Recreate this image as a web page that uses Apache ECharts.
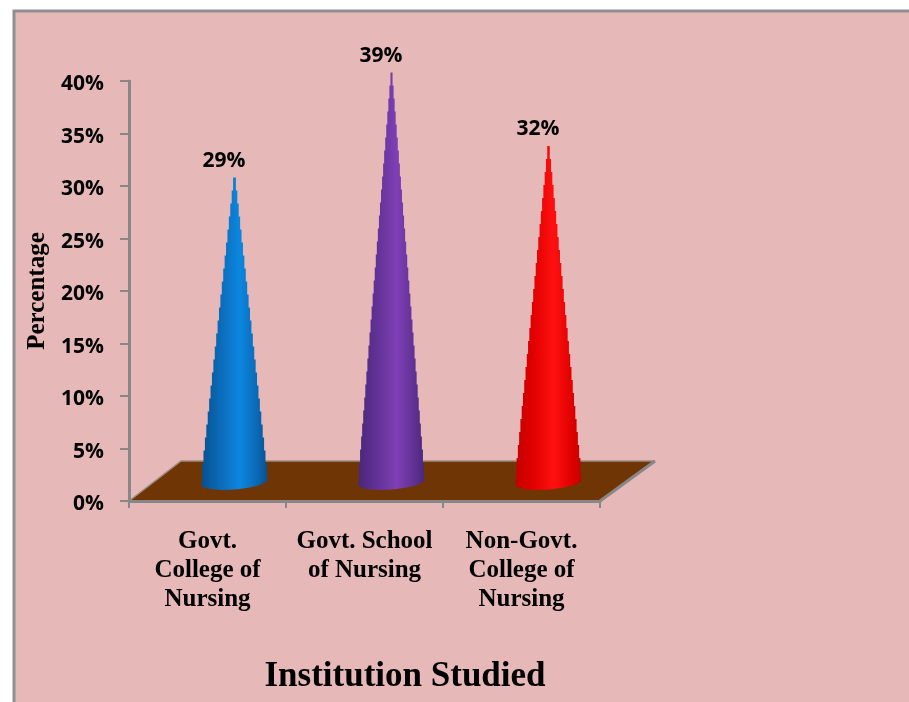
<!DOCTYPE html>
<html>
<head>
<meta charset="utf-8">
<style>
  html, body { margin: 0; padding: 0; background: #ffffff; }
  #chart { width: 909px; height: 702px; }
</style>
<script src="https://cdn.jsdelivr.net/npm/echarts@6/dist/echarts.min.js"></script>
</head>
<body>
<div id="chart"></div>
<script>
const categories = ['Govt.\nCollege of\nNursing', 'Govt. School\nof Nursing', 'Non-Govt.\nCollege of\nNursing'];
const percentages = [29, 39, 32];
const yTickMax = 40;
const yTickStep = 5;
const coneShades = [
  ['#07508f', '#0c87e0', '#0a68b4'],
  ['#4a2679', '#7f3fb5', '#5f3193'],
  ['#c40000', '#ff1010', '#df0000']
];

const AXIS_GREY = '#878787';
const DEPTH_X = 53;
const DEPTH_Y = -40;
const BASE_RX = 33;
const BASE_RY = 7.5;
const BASE_TILT = 2.5;
const STEP = 13;
const SANS_BOLD = '"Open Sans", Lato, sans-serif';

function renderFloor(params, api) {
  const cs = params.coordSys;
  const left = cs.x, right = cs.x + cs.width, front = cs.y + cs.height;
  const back = front + DEPTH_Y;
  const backLeft = [left + DEPTH_X - 1, back];
  const backRight = [right + DEPTH_X + 2, back];
  return {
    type: 'group',
    children: [
      {
        type: 'polygon',
        shape: { points: [[left, front], backLeft, backRight, [right, front]] },
        style: { fill: '#703505' }
      },
      {
        type: 'polyline',
        shape: { points: [[left, front], backLeft, backRight] },
        style: { fill: 'none', stroke: '#9b8d84', lineWidth: 1.5 }
      },
      {
        type: 'line',
        shape: { x1: right, y1: front, x2: backRight[0], y2: backRight[1] },
        style: { stroke: AXIS_GREY, lineWidth: 3 }
      }
    ]
  };
}

function renderCone(params, api) {
  const i = api.value(0);
  const value = api.value(1);
  const tip = api.coord([i, value]);
  const foot = api.coord([i, 0]);
  const cx = tip[0] + DEPTH_X / 2 + 0.5;
  const tipY = tip[1] + DEPTH_Y / 2 + 1;
  const baseY = foot[1] + DEPTH_Y / 2 + 1;

  // Right flank, stepped from the tip downwards like a stack of faceted rings
  const right = [[cx, tipY]];
  for (let y = tipY + STEP; y < baseY - BASE_TILT; y += STEP) {
    const w = BASE_RX * (y - tipY) / (baseY - tipY);
    right.push([cx + w, y - STEP], [cx + w, y]);
  }
  // Elliptical foot, slightly tilted by the chart's perspective
  const foot2 = [];
  for (let a = 0; a <= 180; a += 6) {
    const t = a * Math.PI / 180;
    foot2.push([cx + BASE_RX * Math.cos(t), baseY + BASE_RY * Math.sin(t) - BASE_TILT * Math.cos(t)]);
  }
  // Left flank mirrors the right one back up to the tip
  const left = [];
  for (let k = right.length - 1; k >= 1; k--) {
    left.push([2 * cx - right[k][0], right[k][1]]);
  }
  const shades = coneShades[i];
  return {
    type: 'group',
    children: [
      {
        type: 'polygon',
        shape: { points: right.concat(foot2, left) },
        style: {
          fill: new echarts.graphic.LinearGradient(0, 0, 1, 0, [
            { offset: 0, color: shades[0] },
            { offset: 0.25, color: shades[2] },
            { offset: 0.58, color: shades[1] },
            { offset: 0.85, color: shades[2] },
            { offset: 1, color: shades[0] }
          ])
        }
      },
      {
        type: 'text',
        style: {
          text: value + '%',
          x: cx - 10.5,
          y: tipY - 16.5,
          align: 'center',
          verticalAlign: 'middle',
          font: '700 21px ' + SANS_BOLD,
          fill: '#000000'
        }
      }
    ]
  };
}

const chart = echarts.init(document.getElementById('chart'), null, { renderer: 'canvas' });
chart.setOption({
  animation: false,
  backgroundColor: '#ffffff',
  graphic: [{
    type: 'rect',
    silent: true,
    z: -10,
    shape: { x: 14, y: 11, width: 920, height: 720 },
    style: { fill: '#e6b8b7', stroke: '#8f8f8f', lineWidth: 3 }
  }],
  title: {
    text: 'Institution Studied',
    left: 400,
    top: 654,
    textAlign: 'center',
    textStyle: { fontFamily: '"Liberation Serif"', fontWeight: 700, fontSize: 35, color: '#000000' }
  },
  grid: { left: 129, top: 81, width: 471, height: 420, containLabel: false },
  xAxis: {
    type: 'category',
    data: categories,
    boundaryGap: true,
    axisLine: { show: true, lineStyle: { color: AXIS_GREY, width: 3 } },
    axisTick: { show: true, alignWithLabel: false, length: 7, lineStyle: { color: AXIS_GREY, width: 2 } },
    axisLabel: {
      interval: 0,
      margin: 26,
      lineHeight: 29,
      fontFamily: '"Liberation Serif"',
      fontWeight: 700,
      fontSize: 25,
      color: '#000000'
    },
    z: 3
  },
  yAxis: {
    type: 'value',
    min: 0,
    max: yTickMax,
    interval: yTickStep,
    name: 'Percentage',
    nameLocation: 'middle',
    nameGap: 78,
    nameRotate: 90,
    nameTextStyle: { fontFamily: '"Liberation Serif"', fontWeight: 700, fontSize: 25, color: '#000000' },
    splitLine: { show: false },
    axisLine: { show: true, lineStyle: { color: AXIS_GREY, width: 3 } },
    axisTick: { show: true, length: 9, lineStyle: { color: AXIS_GREY, width: 2 } },
    axisLabel: {
      margin: 25,
      verticalAlign: 'top',
      lineHeight: 7,
      formatter: '{value}%',
      fontFamily: SANS_BOLD,
      fontWeight: 700,
      fontSize: 21,
      color: '#000000'
    },
    z: 3
  },
  series: [
    {
      type: 'custom',
      name: 'Floor',
      coordinateSystem: 'cartesian2d',
      clip: false,
      z: 1,
      silent: true,
      renderItem: renderFloor,
      data: [[0, 0]]
    },
    {
      type: 'custom',
      name: 'Institution Studied',
      coordinateSystem: 'cartesian2d',
      clip: false,
      z: 4,
      encode: { x: 0, y: 1 },
      renderItem: renderCone,
      data: percentages.map((v, i) => [i, v])
    }
  ]
});
</script>
</body>
</html>
